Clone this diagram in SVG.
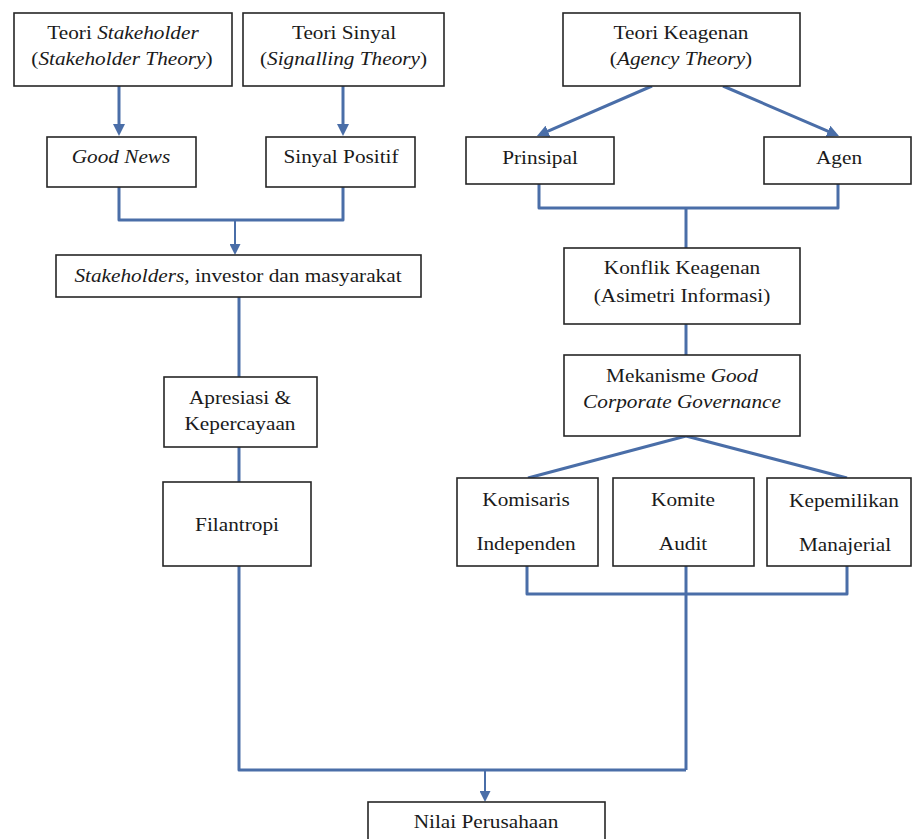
<svg xmlns="http://www.w3.org/2000/svg" width="912" height="839" viewBox="0 0 912 839">
<style>
.box{fill:#fff;stroke:#262626;stroke-width:1.6}
.t{font-family:'Liberation Serif','Times New Roman',Times,'DejaVu Serif',serif;font-size:19px;fill:#1a1a1a;text-anchor:middle}
.i{font-style:italic}
.c{fill:none;stroke:#4a6ea8;stroke-width:3;stroke-linejoin:round}
.cn{fill:none;stroke:#4a6ea8;stroke-width:2}
</style>
<defs>
<marker id="ah" markerUnits="userSpaceOnUse" markerWidth="12" markerHeight="12" refX="8" refY="6" orient="auto">
<path d="M0,0 L12,6 L0,12 z" fill="#4a6ea8"/>
</marker>
<marker id="ahs" markerUnits="userSpaceOnUse" markerWidth="11" markerHeight="11" refX="7" refY="5.5" orient="auto">
<path d="M0,0 L11,5.5 L0,11 z" fill="#4a6ea8"/>
</marker>
</defs>
<rect width="912" height="839" fill="#fff"/>

<g id="connectors">
<line class="c" x1="119" y1="86" x2="119" y2="132" marker-end="url(#ah)"/>
<line class="c" x1="343" y1="86" x2="343" y2="132" marker-end="url(#ah)"/>
<path class="c" d="M119,187 V220 H343 V187"/>
<line class="cn" x1="235" y1="220" x2="235" y2="251" marker-end="url(#ahs)"/>
<line class="c" x1="239" y1="297" x2="239" y2="377"/>
<line class="c" x1="239" y1="447" x2="239" y2="482"/>
<path class="c" d="M239,566 V770 H686"/>
<line class="c" x1="686" y1="566" x2="686" y2="770"/>
<line class="cn" x1="485" y1="770" x2="485" y2="798" marker-end="url(#ahs)"/>
<line class="c" x1="652" y1="86" x2="540.6" y2="134.4" marker-end="url(#ah)"/>
<line class="c" x1="723" y1="86" x2="835.3" y2="134.4" marker-end="url(#ah)"/>
<path class="c" d="M539,184 V208 H838 V184"/>
<line class="c" x1="686" y1="208" x2="686" y2="248"/>
<line class="c" x1="686" y1="324" x2="686" y2="355"/>
<path class="c" d="M528,478 L686,436 L847,478"/>
<path class="c" d="M527,566 V594 H847 V566"/>
</g>

<g id="teori-stakeholder">
<rect class="box" x="14" y="13" width="218" height="73"/>
<text class="t" transform="translate(123 0) scale(1.12 1)" x="0" y="39">Teori <tspan class="i">Stakeholder</tspan></text>
<text class="t" transform="translate(122 0) scale(1.12 1)" x="0" y="65">(<tspan class="i">Stakeholder Theory</tspan>)</text>
</g>

<g id="teori-sinyal">
<rect class="box" x="243" y="13" width="201" height="73"/>
<text class="t" transform="translate(344 0) scale(1.12 1)" x="0" y="39">Teori Sinyal</text>
<text class="t" transform="translate(343.5 0) scale(1.12 1)" x="0" y="65">(<tspan class="i">Signalling Theory</tspan>)</text>
</g>

<g id="good-news">
<rect class="box" x="47" y="137" width="149" height="50"/>
<text class="t i" transform="translate(121 0) scale(1.12 1)" x="0" y="163">Good News</text>
</g>

<g id="sinyal-positif">
<rect class="box" x="266" y="137" width="149" height="50"/>
<text class="t" transform="translate(341 0) scale(1.12 1)" x="0" y="163">Sinyal Positif</text>
</g>

<g id="stakeholders">
<rect class="box" x="56" y="255" width="365" height="42"/>
<text class="t" transform="translate(238 0) scale(1.12 1)" x="0" y="282"><tspan class="i">Stakeholders</tspan>, investor dan masyarakat</text>
</g>

<g id="apresiasi">
<rect class="box" x="164" y="377" width="153" height="70"/>
<text class="t" transform="translate(240 0) scale(1.12 1)" x="0" y="404">Apresiasi &amp;</text>
<text class="t" transform="translate(240 0) scale(1.12 1)" x="0" y="430">Kepercayaan</text>
</g>

<g id="filantropi">
<rect class="box" x="163" y="482" width="148" height="84"/>
<text class="t" transform="translate(237 0) scale(1.12 1)" x="0" y="531">Filantropi</text>
</g>

<g id="teori-keagenan">
<rect class="box" x="563" y="13" width="237" height="73"/>
<text class="t" transform="translate(681 0) scale(1.12 1)" x="0" y="39">Teori Keagenan</text>
<text class="t" transform="translate(681 0) scale(1.12 1)" x="0" y="65">(<tspan class="i">Agency Theory</tspan>)</text>
</g>

<g id="prinsipal">
<rect class="box" x="466" y="137" width="148" height="47"/>
<text class="t" transform="translate(540 0) scale(1.12 1)" x="0" y="164">Prinsipal</text>
</g>

<g id="agen">
<rect class="box" x="764" y="137" width="147" height="47"/>
<text class="t" transform="translate(839 0) scale(1.12 1)" x="0" y="164">Agen</text>
</g>

<g id="konflik">
<rect class="box" x="564" y="248" width="236" height="76"/>
<text class="t" transform="translate(682 0) scale(1.12 1)" x="0" y="274">Konflik Keagenan</text>
<text class="t" transform="translate(682 0) scale(1.12 1)" x="0" y="302">(Asimetri Informasi)</text>
</g>

<g id="mekanisme-gcg">
<rect class="box" x="564" y="355" width="236" height="81"/>
<text class="t" transform="translate(682 0) scale(1.12 1)" x="0" y="382">Mekanisme <tspan class="i">Good</tspan></text>
<text class="t i" transform="translate(682 0) scale(1.12 1)" x="0" y="408">Corporate Governance</text>
</g>

<g id="komisaris-independen">
<rect class="box" x="457" y="478" width="141" height="88"/>
<text class="t" transform="translate(526 0) scale(1.12 1)" x="0" y="506">Komisaris</text>
<text class="t" transform="translate(526 0) scale(1.12 1)" x="0" y="550">Independen</text>
</g>

<g id="komite-audit">
<rect class="box" x="613" y="478" width="141" height="88"/>
<text class="t" transform="translate(683 0) scale(1.12 1)" x="0" y="506">Komite</text>
<text class="t" transform="translate(683 0) scale(1.12 1)" x="0" y="550">Audit</text>
</g>

<g id="kepemilikan-manajerial">
<rect class="box" x="767" y="478" width="144" height="88"/>
<text class="t" transform="translate(844 0) scale(1.12 1)" x="0" y="507">Kepemilikan</text>
<text class="t" transform="translate(845 0) scale(1.12 1)" x="0" y="551">Manajerial</text>
</g>

<g id="nilai-perusahaan">
<rect class="box" x="368" y="802" width="237" height="45"/>
<text class="t" transform="translate(486 0) scale(1.12 1)" x="0" y="828">Nilai Perusahaan</text>
</g>
</svg>
